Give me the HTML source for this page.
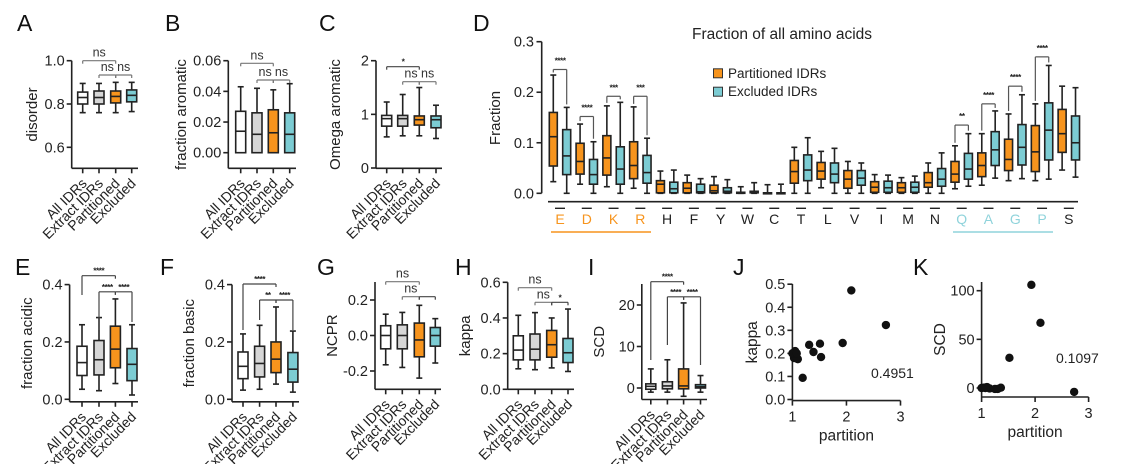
<!DOCTYPE html>
<html><head><meta charset="utf-8">
<style>
html,body{margin:0;padding:0;background:#fff;}
svg{display:block;font-family:"Liberation Sans",Arial,sans-serif;}
</style></head>
<body>
<svg id="fig" width="1125" height="464" viewBox="0 0 1125 464" xmlns="http://www.w3.org/2000/svg"></svg>
<script>
// ---------- data ----------
const groupLabels = ["All IDRs","Extract IDRs","Partitioned","Excluded"];
const groupFills = ["#ffffff","#d6d6d6","#f7941d","#7cccd3"];
// each stat: [low whisker, q1, median, q3, high whisker]
const disorderStats = [[0.76,0.80,0.83,0.855,0.895],[0.76,0.80,0.83,0.86,0.895],[0.76,0.805,0.835,0.86,0.90],[0.765,0.81,0.84,0.865,0.90]];
const aromaticStats = [[0,0,0.014,0.027,0.043],[0,0,0.012,0.026,0.042],[0,0,0.013,0.028,0.041],[0,0,0.012,0.026,0.045]];
const omegaStats = [[0.58,0.78,0.92,0.98,1.23],[0.60,0.78,0.92,0.98,1.37],[0.60,0.80,0.90,0.97,1.50],[0.55,0.75,0.90,0.97,1.17]];
const acidicStats = [[0.035,0.083,0.128,0.185,0.26],[0.03,0.085,0.138,0.205,0.285],[0.055,0.11,0.175,0.255,0.35],[0.015,0.065,0.122,0.177,0.26]];
const basicStats = [[0.032,0.072,0.115,0.165,0.228],[0.035,0.078,0.125,0.185,0.258],[0.053,0.093,0.14,0.2,0.322],[0.025,0.06,0.105,0.163,0.238]];
const ncprStats = [[-0.165,-0.075,0,0.055,0.12],[-0.18,-0.075,0,0.06,0.13],[-0.24,-0.12,-0.025,0.07,0.17],[-0.155,-0.06,0,0.045,0.095]];
const kappaStats = [[0.115,0.165,0.22,0.30,0.415],[0.11,0.165,0.225,0.31,0.43],[0.12,0.18,0.25,0.33,0.40],[0.10,0.15,0.205,0.285,0.45]];
const scdStats = [[-1,-0.3,0.4,1,4.6],[-1,-0.2,0.5,1.5,6.8],[-2,-0.2,0.5,4.6,20.5],[-1,0,0.3,0.8,3]];

const aaLetters = ["E","D","K","R","H","F","Y","W","C","T","L","V","I","M","N","Q","A","G","P","S"];
const aaPartitioned = [[0.023,0.054,0.112,0.16,0.234],[0.018,0.038,0.063,0.099,0.137],[0.013,0.036,0.07,0.114,0.173],[0.01,0.029,0.055,0.102,0.171],
 [0,0.001,0.018,0.025,0.044],[0,0.001,0.01,0.021,0.036],[0,0.001,0.005,0.016,0.033],[0,0.001,0.001,0.002,0.013],[0,0,0.001,0.001,0.017],
 [0,0.02,0.043,0.065,0.091],[0.011,0.028,0.044,0.061,0.083],[0,0.01,0.028,0.045,0.063],[0,0.002,0.012,0.023,0.037],[0,0.002,0.011,0.021,0.031],
 [0,0.012,0.021,0.041,0.06],[0.009,0.022,0.038,0.063,0.094],[0.016,0.033,0.055,0.08,0.118],[0.025,0.045,0.067,0.107,0.157],[0.025,0.043,0.082,0.134,0.177],[0.046,0.081,0.118,0.166,0.212]];
const aaExcluded = [[0,0.037,0.074,0.126,0.17],[0,0.018,0.037,0.067,0.102],[0,0.018,0.048,0.092,0.18],[0,0.02,0.041,0.075,0.109],
 [0,0.001,0.009,0.022,0.046],[0,0.001,0.003,0.018,0.029],[0,0.001,0.004,0.011,0.027],[0,0.001,0.003,0.004,0.021],[0,0,0.001,0.001,0.018],
 [0,0.025,0.046,0.076,0.11],[0,0.021,0.038,0.06,0.089],[0,0.016,0.03,0.045,0.06],[0,0.002,0.011,0.024,0.036],[0,0.002,0.012,0.022,0.034],
 [0,0.014,0.028,0.049,0.08],[0.014,0.028,0.048,0.079,0.118],[0.03,0.055,0.086,0.122,0.163],[0.029,0.056,0.091,0.136,0.195],[0.028,0.066,0.125,0.179,0.253],[0.032,0.066,0.10,0.153,0.209]];
// significance annotations: [category index, bracket y value, label]
const aaSigIndex = [0,1,2,3,15,16,17,18];
const aaSigLevel = [0.245,0.152,0.192,0.192,0.135,0.177,0.212,0.270];
const aaSigLabel = ["****","****","***","***","**","****","****","****"];

const jPartition = [1.03,1.05,1.07,1.1,1.0,1.19,1.31,1.39,1.51,1.53,1.93,2.09,2.73,1.08];
const jKappa = [0.18,0.21,0.195,0.175,0.2,0.094,0.237,0.206,0.242,0.184,0.245,0.473,0.323,0.2];
const kPartition = [1.0,1.05,1.1,1.15,1.25,1.3,1.36,1.52,1.93,2.1,2.73,1.07];
const kSCD = [0,0.5,1,-0.5,-1,-1,0.3,31,106,67,-4,0];

// ---------- helpers ----------
const NS='http://www.w3.org/2000/svg';
const svg=document.getElementById('fig');
function mk(tag,parent){const e=document.createElementNS(NS,tag);(parent||svg).appendChild(e);return e;}
function ln(p,x1,y1,x2,y2,stroke,w){const e=mk('line',p);e.setAttribute('x1',x1);e.setAttribute('y1',y1);e.setAttribute('x2',x2);e.setAttribute('y2',y2);e.setAttribute('stroke',stroke||'#222');e.setAttribute('stroke-width',w||1.5);return e;}
function tx(p,x,y,s,size,anchor,fill){const e=mk('text',p);e.setAttribute('x',x);e.setAttribute('y',y);e.setAttribute('font-size',size);e.setAttribute('text-anchor',anchor||'start');e.setAttribute('fill',fill||'#222');e.textContent=s;return e;}
function stars(p,x,y,s){const t=tx(p,x,y,s,8.5,'middle','#222');t.setAttribute('font-weight','bold');t.setAttribute('letter-spacing','-0.6');return t;}
function lin(v0,p0,v1,p1){return v=>p0+(v-v0)*(p1-p0)/(v1-v0);}

function panelLetter(s,x,y){const t=tx(svg,x,y,s,23,'start','#111');

}

function drawBox(g,cx,st,ys,w,fill,nm){
  const b=mk('g',g);
  
  
  ln(b,cx,ys(st[0]),cx,ys(st[4]),'#222',1.6);
  ln(b,cx-3,ys(st[0]),cx+3,ys(st[0]),'#222',1.6);
  ln(b,cx-3,ys(st[4]),cx+3,ys(st[4]),'#222',1.6);
  const r=mk('rect',b);r.setAttribute('x',cx-w/2);r.setAttribute('y',ys(st[3]));r.setAttribute('width',w);
  r.setAttribute('height',Math.max(1,ys(st[1])-ys(st[3])));r.setAttribute('fill',fill);r.setAttribute('stroke','#222');r.setAttribute('stroke-width',1.6);
  ln(b,cx-w/2,ys(st[2]),cx+w/2,ys(st[2]),'#222',1.6);
}

function boxPanel(c){
  const g=mk('g');
  
  
  const ys=lin(c.v0,c.p0,c.v1,c.p1);
  const ax=mk('g',g);
  
  
  ln(ax,c.ax,c.top,c.ax,c.bottom,'#222',1.6);
  c.ticks.forEach((t,i)=>{ln(ax,c.ax-5,ys(t),c.ax,ys(t),'#222',1.6);tx(ax,c.ax-7,ys(t)+5,c.tickLabels[i],14.5,'end');});
  const xa=mk('g',g);
  
  
  ln(xa,c.ax,c.bottom,c.xEnd,c.bottom,'#222',1.6);
  c.xs.forEach((x,i)=>{
    ln(xa,x,c.bottom,x,c.bottom+5,'#222',1.6);
    const t=tx(xa,x+5,c.bottom+16,groupLabels[i],14,'end');
    t.setAttribute('transform','rotate(-45 '+(x+5)+' '+(c.bottom+16)+')');
  });
  const yt=tx(g,c.titleX,(c.top+c.bottom)/2,c.title,15,'middle');
  yt.setAttribute('transform','rotate(-90 '+c.titleX+' '+((c.top+c.bottom)/2)+')');
  
  
  c.stats.forEach((st,i)=>drawBox(g,c.xs[i],st,ys,10,groupFills[i],c.name+'-box-'+i));
  c.sig.forEach(s=>{
    const sg=mk('g',g);
    
    
    const x1=c.xs[s[0]],x2=c.xs[s[1]],y=s[2];
    const col=s[3]==='ns'?'#777':'#444';
    ln(sg,x1,y,x2,y,col,1.2);
    if(s[4]){ln(sg,x1,y,x1,s[4],col,1.2);ln(sg,x2,y,x2,s[5],col,1.2);}
    else{ln(sg,x1,y,x1,y+3,col,1.2);ln(sg,x2,y,x2,y+3,col,1.2);}
    if(s[3]==='ns') tx(sg,(x1+x2)/2,y-4,'ns',12.5,'middle','#333');
    else stars(sg,(x1+x2)/2,y-2,s[3]);
  });
}

// ---------- panels A-C ----------
panelLetter('A',17,31);panelLetter('B',165,31);panelLetter('C',319,31);panelLetter('D',473,31);
boxPanel({name:'panel-a',ax:71.7,v0:1.0,p0:60.7,v1:0.6,p1:147.3,top:60.7,bottom:168.3,xEnd:138,
 ticks:[0.6,0.8,1.0],tickLabels:["0.6","0.8","1.0"],xs:[82.7,99,115.7,131.7],stats:disorderStats,title:'disorder',titleX:37,
 sig:[[0,2,60.7,'ns'],[1,2,75,'ns'],[2,3,75,'ns']]});
boxPanel({name:'panel-b',ax:228.3,v0:0.06,p0:60.7,v1:0,p1:152.7,top:60.7,bottom:168.3,xEnd:296,
 ticks:[0,0.02,0.04,0.06],tickLabels:["0.00","0.02","0.04","0.06"],xs:[240.7,257,273.3,289.7],stats:aromaticStats,title:'fraction aromatic',titleX:186,
 sig:[[0,2,63.3,'ns'],[1,2,80,'ns'],[2,3,80,'ns']]});
boxPanel({name:'panel-c',ax:376,v0:2,p0:60.7,v1:0,p1:168,top:60.7,bottom:168.3,xEnd:442,
 ticks:[0,1,2],tickLabels:["0","1","2"],xs:[386.7,402.7,419.3,436],stats:omegaStats,title:'Omega aromatic',titleX:340,
 sig:[[0,2,66.7,'*'],[1,2,81.7,'ns'],[2,3,81.7,'ns']]});

// ---------- panel D ----------
(function(){
  const g=mk('g');
  
  
  const ys=lin(0.3,41.7,0,193.3);
  const cx=i=>560+i*26.78;
  const ax=mk('g',g);
  
  
  ln(ax,541.7,41.7,541.7,193.3,'#222',1.6);
  [0,0.1,0.2,0.3].forEach(t=>{ln(ax,536.5,ys(t),541.7,ys(t),'#222',1.6);tx(ax,534,ys(t)+5,t.toFixed(1),14.5,'end');});
  const yt=tx(g,500,118,'Fraction',15,'middle');
  yt.setAttribute('transform','rotate(-90 500 118)');
  
  
  const xl=ln(g,548,201.7,1078,201.7,'#222',1.6);
  
  
  const title=tx(g,692,39,'Fraction of all amino acids',15.5,'start','#222');
  
  
  aaLetters.forEach((a,i)=>{
    const x=cx(i);
    ln(g,x-5,208.3,x+5,208.3,'#222',1.4);
    let col='#222'; if(i<4) col='#f7941d'; if(i>=15&&i<=18) col='#8fd3db';
    const t=tx(g,x,224,a,14,'middle',col);
    
    
    drawBox(g,x-6.7,aaPartitioned[i],ys,8,'#f7941d','box-partitioned-'+a);
    drawBox(g,x+6.7,aaExcluded[i],ys,8,'#7cccd3','box-excluded-'+a);
  });
  const u1=ln(g,551,232,651,232,'#f7941d',1.6);
  
  
  const u2=ln(g,953,232,1053,232,'#8fd3db',1.6);
  
  
  aaSigIndex.forEach((ci,k)=>{
    const sg=mk('g',g);
    
    
    const x1=cx(ci)-6.7,x2=cx(ci)+6.7,y=ys(aaSigLevel[k]);
    ln(sg,x1,y,x2,y,'#555',1.2);
    ln(sg,x1,y,x1,Math.max(y+3,ys(aaPartitioned[ci][4])-3),'#555',1.2);
    ln(sg,x2,y,x2,Math.max(y+3,ys(aaExcluded[ci][4])-3),'#555',1.2);
    stars(sg,cx(ci),y-6,aaSigLabel[k]);
  });
  const lg=mk('g',g);
  
  
  [['Partitioned IDRs','#f7941d',68.8],['Excluded IDRs','#7cccd3',87.2]].forEach(e=>{
    const r=mk('rect',lg);r.setAttribute('x',713.5);r.setAttribute('y',e[2]);r.setAttribute('width',9);r.setAttribute('height',9);
    r.setAttribute('fill',e[1]);r.setAttribute('stroke','#333');r.setAttribute('stroke-width',1);
    tx(lg,728,e[2]+9,e[0],13.5,'start','#222');
  });
})();

// ---------- panels E-I ----------
panelLetter('E',15,275);panelLetter('F',160,275);panelLetter('G',317,275);panelLetter('H',455,275);panelLetter('I',588,275);
boxPanel({name:'panel-e',ax:69.6,v0:0.4,p0:284.6,v1:0,p1:399.3,top:284.6,bottom:401.8,xEnd:138,
 ticks:[0,0.2,0.4],tickLabels:["0.0","0.2","0.4"],xs:[82,99,115.4,132],stats:acidicStats,title:'fraction acidic',titleX:32,
 sig:[[0,2,275.7,'****',295,275.7+3],[1,2,291.8,'****',330,291.8+3],[2,3,291.8,'****',291.8+3,322]]});
boxPanel({name:'panel-f',ax:232,v0:0.4,p0:284.6,v1:0,p1:399.3,top:284.6,bottom:401.8,xEnd:299,
 ticks:[0,0.2,0.4],tickLabels:["0.0","0.2","0.4"],xs:[243,259.6,276,292.9],stats:basicStats,title:'fraction basic',titleX:194,
 sig:[[0,2,284,'****',330,284+3],[1,2,300,'**',320,300+3],[2,3,300,'****',300+3,330]]});
boxPanel({name:'panel-g',ax:375,v0:0.2,p0:300,v1:-0.2,p1:371,top:282,bottom:389.3,xEnd:441,
 ticks:[-0.2,0,0.2],tickLabels:["-0.2","0.0","0.2"],xs:[385.7,402.3,419.3,435.3],stats:ncprStats,title:'NCPR',titleX:337,
 sig:[[0,2,281.7,'ns'],[1,2,296.7,'ns'],[2,3,296.7,'']]});
boxPanel({name:'panel-h',ax:507.7,v0:0.6,p0:282.3,v1:0,p1:389.3,top:282.3,bottom:389.3,xEnd:574,
 ticks:[0,0.2,0.4,0.6],tickLabels:["0.0","0.2","0.4","0.6"],xs:[518.3,535,551.7,568],stats:kappaStats,title:'kappa',titleX:470,
 sig:[[0,2,287.7,'ns'],[1,2,302.3,'ns'],[2,3,302.3,'*']]});
boxPanel({name:'panel-i',ax:641.8,v0:20,p0:305,v1:0,p1:388,top:284,bottom:399.5,xEnd:707,
 ticks:[0,10,20],tickLabels:["0","10","20"],xs:[650.8,667.4,683.6,700.5],stats:scdStats,title:'SCD',titleX:604,
 sig:[[0,2,281.7,'****',360,281.7+3],[1,2,296.8,'****',345,296.8+3],[2,3,296.8,'****',296.8+3,365]]});

// ---------- scatter J, K ----------
function scatter(c){
  const g=mk('g');
  
  
  const xs=lin(1,c.x1,3,c.x3), ys=lin(c.v0,c.p0,c.v1,c.p1);
  ln(g,c.x1,c.top,c.x1,c.bottom,'#222',1.6);
  ln(g,c.x1,c.bottom,c.x3,c.bottom,'#222',1.6);
  c.yt.forEach((t,i)=>{ln(g,c.x1-5,ys(t),c.x1,ys(t),'#222',1.6);tx(g,c.x1-7,ys(t)+5,c.ytl[i],14.5,'end');});
  [1,2,3].forEach(t=>{ln(g,xs(t),c.bottom,xs(t),c.bottom+5,'#222',1.6);tx(g,xs(t),c.bottom+21,String(t),14.5,'middle');});
  const xt=tx(g,xs(2),c.bottom+40,'partition',15.5,'middle');
  
  
  const yt=tx(g,c.ytx,(c.top+c.bottom)/2,c.ytitle,15.5,'middle');
  yt.setAttribute('transform','rotate(-90 '+c.ytx+' '+((c.top+c.bottom)/2)+')');
  
  
  c.px.forEach((p,i)=>{
    const d=mk('circle',g);
    d.setAttribute('cx',xs(p));d.setAttribute('cy',ys(c.py[i]));d.setAttribute('r',4.2);d.setAttribute('fill','#111');
    
    
  });
  const a=tx(g,c.annX,c.annY,c.ann,14,'start','#222');
  
  
}
panelLetter('J',733,275);panelLetter('K',913,275);
scatter({name:'panel-j',x1:792.4,x3:900.5,top:284,bottom:400.6,v0:0.5,p0:284.2,v1:0,p1:399.5,
 yt:[0,0.1,0.2,0.3,0.4,0.5],ytl:["0.0","0.1","0.2","0.3","0.4","0.5"],px:jPartition,py:jKappa,ytitle:'kappa',ytx:757,
 ann:'0.4951',annX:871,annY:378});
scatter({name:'panel-k',x1:981.6,x3:1088.6,top:282,bottom:397,v0:100,p0:290.7,v1:0,p1:388,
 yt:[0,50,100],ytl:["0","50","100"],px:kPartition,py:kSCD,ytitle:'SCD',ytx:945,
 ann:'0.1097',annX:1056,annY:363});
</script>
</body></html>
